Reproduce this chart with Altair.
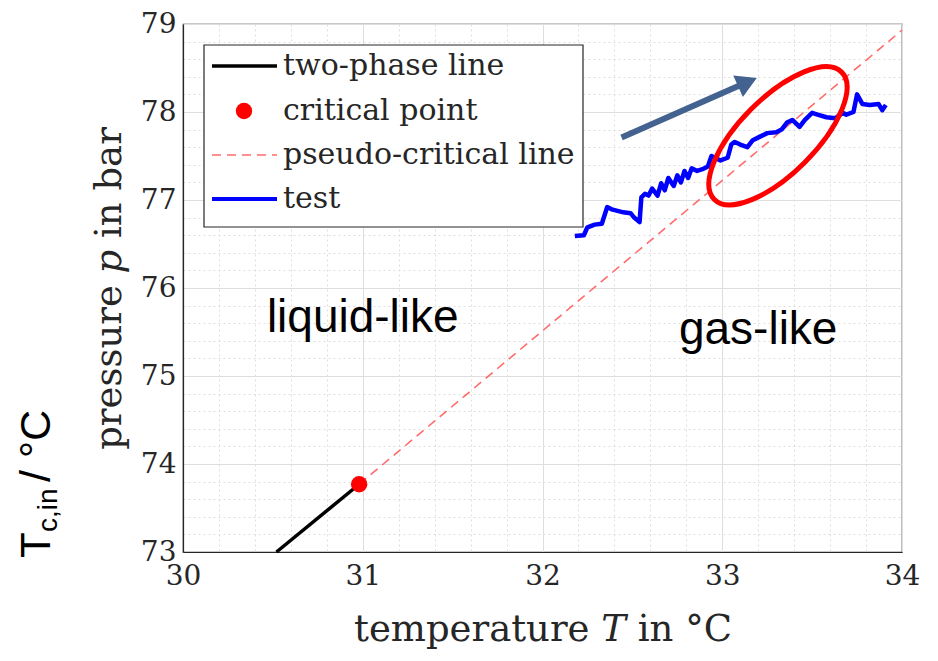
import altair as alt
import pandas as pd

# ---------------- data ----------------
two_phase_T = [30.52, 30.98]
two_phase_p = [73.00, 73.77]
critical_T = [30.98]
critical_p = [73.77]
pseudo_T = [30.98, 34.00]
pseudo_p = [73.77, 78.93]
test_T = [32.18, 32.23, 32.25, 32.29, 32.33, 32.36, 32.39, 32.45, 32.49, 32.51,
          32.54, 32.55, 32.57, 32.59, 32.61, 32.64, 32.66, 32.68, 32.70, 32.73,
          32.75, 32.77, 32.79, 32.81, 32.83, 32.86, 32.89, 32.92, 32.94, 32.96,
          32.99, 33.03, 33.05, 33.07, 33.10, 33.14, 33.17, 33.21, 33.25, 33.30,
          33.33, 33.36, 33.39, 33.42, 33.43, 33.46, 33.50, 33.53, 33.58, 33.63,
          33.67, 33.69, 33.73, 33.75, 33.78, 33.82, 33.87, 33.89, 33.91]
test_p = [76.59, 76.60, 76.69, 76.72, 76.73, 76.92, 76.89, 76.86, 76.85, 76.80,
          76.75, 77.03, 77.07, 77.05, 77.13, 77.05, 77.19, 77.11, 77.25, 77.16,
          77.28, 77.20, 77.33, 77.25, 77.36, 77.33, 77.35, 77.38, 77.50, 77.48,
          77.45, 77.48, 77.63, 77.66, 77.63, 77.60, 77.68, 77.72, 77.76, 77.77,
          77.80, 77.88, 77.91, 77.85, 77.83, 77.91, 77.99, 77.97, 77.94, 77.93,
          77.99, 77.97, 78.00, 78.20, 78.09, 78.08, 78.09, 78.02, 78.08]
legend_labels = ["two-phase line", "critical point", "pseudo-critical line", "test"]
region_labels = ["liquid-like", "gas-like"]
region_T = [31.00, 33.20]
region_p = [75.66, 75.52]
arrow_T = [32.44, 33.14]
arrow_p = [77.71, 78.34]
ellipse_T = [33.31]
ellipse_p = [77.73]
side_label_parts = ["T", "c,in", "/ °C"]
x_title = "temperature 𝑇 in °C"
y_title = "pressure 𝑝 in bar"

x_grid_values = [round(30 + 0.2 * i, 1) for i in range(21)]
y_grid_values = [round(73 + 0.2 * i, 1) for i in range(31)]

# ---------------- styling ----------------
SERIF = "DejaVu Serif"
SANS = "Liberation Sans"
INK = "#262626"
IS_MAJOR = "abs(datum.value - round(datum.value)) < 0.01"

def make_axis(title, values, title_pad, label_pad):
    return alt.Axis(
        values=values,
        title=title,
        grid=True,
        gridColor="#dedede",
        gridWidth=1,
        gridDash=alt.condition(IS_MAJOR, alt.value([]), alt.value([2, 3])),
        labelExpr=f"{IS_MAJOR} ? format(datum.value, 'd') : ''",
        labelOverlap=False,
        labelFlush=False,
        ticks=False,
        domain=True,
        domainColor=INK,
        domainWidth=1.2,
        labelFont=SERIF,
        labelFontSize=28,
        labelColor=INK,
        labelPadding=label_pad,
        titleFont=SERIF,
        titleFontSize=37,
        titleFontWeight="normal",
        titleColor=INK,
        titlePadding=title_pad,
    )

x_axis = make_axis(x_title, x_grid_values, 21, 10)
y_axis = make_axis(y_title, y_grid_values, 12, 7)
x_scale = alt.Scale(domain=[30, 34], nice=False, zero=False)
y_scale = alt.Scale(domain=[73, 79], nice=False, zero=False)

def X(f):
    return alt.X(f"{f}:Q", scale=x_scale, axis=x_axis)

def Y(f):
    return alt.Y(f"{f}:Q", scale=y_scale, axis=y_axis)

# ---------------- layers ----------------
pseudo = alt.Chart(pd.DataFrame({"T": pseudo_T, "p": pseudo_p})).mark_line(
    color="#ff6b6b", strokeWidth=1.6, strokeDash=[9, 6]
).encode(x=X("T"), y=Y("p"))

two_phase = alt.Chart(pd.DataFrame({"T": two_phase_T, "p": two_phase_p})).mark_line(
    color="black", strokeWidth=3.5
).encode(x=X("T"), y=Y("p"))

test = alt.Chart(pd.DataFrame({"T": test_T, "p": test_p})).mark_line(
    color="#0000ff", strokeWidth=4.5, strokeJoin="round"
).encode(x=X("T"), y=Y("p"))

critical = alt.Chart(pd.DataFrame({"T": critical_T, "p": critical_p})).mark_point(
    shape="circle", filled=True, size=270, color="#ff0000", opacity=1
).encode(x=X("T"), y=Y("p"))

regions = alt.Chart(pd.DataFrame({"T": region_T, "p": region_p, "label": region_labels})).mark_text(
    font=SANS, fontSize=46, color="black", align="center", baseline="middle"
).encode(x=X("T"), y=Y("p"), text="label:N")

ELLIPSE_PATH = "M -1 0 A 1 0.42 0 1 1 1 0 A 1 0.42 0 1 1 -1 0 Z"
ellipse = alt.Chart(pd.DataFrame({"T": ellipse_T, "p": ellipse_p})).mark_point(
    shape=ELLIPSE_PATH, filled=False, size=32400, strokeWidth=5,
    color="#ff0000", angle=315, opacity=1
).encode(x=X("T"), y=Y("p"))

arrow_df = pd.DataFrame({"T": arrow_T, "p": arrow_p})
arrow_shaft = alt.Chart(arrow_df).mark_line(
    color="#44628f", strokeWidth=6
).encode(x=X("T"), y=Y("p"))
arrow_head = alt.Chart(arrow_df.tail(1)).mark_point(
    shape="triangle-right", filled=True, size=560, color="#44628f", angle=336, opacity=1
).encode(x=X("T"), y=Y("p"))

# legend (drawn manually)
one = pd.DataFrame({"k": [0]})
legend_box = alt.Chart(one).mark_rect(
    fill="white", stroke=INK, strokeWidth=1.2
).encode(x=alt.value(21), x2=alt.value(400), y=alt.value(21), y2=alt.value(203))

rows_y = [42, 87, 131, 175]
leg_line_black = alt.Chart(one).mark_rule(color="black", strokeWidth=3.5).encode(
    x=alt.value(29), x2=alt.value(94), y=alt.value(rows_y[0]))
leg_point = alt.Chart(one).mark_point(
    shape="circle", filled=True, size=270, color="#ff0000", opacity=1
).encode(x=alt.value(61), y=alt.value(rows_y[1]))
leg_line_red = alt.Chart(one).mark_rule(color="#ff6b6b", strokeWidth=1.6, strokeDash=[9, 6]).encode(
    x=alt.value(29), x2=alt.value(94), y=alt.value(rows_y[2]))
leg_line_blue = alt.Chart(one).mark_rule(color="#0000ff", strokeWidth=4).encode(
    x=alt.value(29), x2=alt.value(94), y=alt.value(rows_y[3]))
leg_texts = [
    alt.Chart(pd.DataFrame({"label": [lab]})).mark_text(
        font=SERIF, fontSize=30, color=INK, align="left", baseline="middle"
    ).encode(x=alt.value(100), y=alt.value(ry), text="label:N")
    for lab, ry in zip(legend_labels, rows_y)
]

# side label "T_c,in / °C"
side_T = alt.Chart(pd.DataFrame({"label": [side_label_parts[0]]})).mark_text(
    font=SANS, fontSize=42, color="black", angle=270, align="left", baseline="alphabetic"
).encode(x=alt.value(-133), y=alt.value(534), text="label:N")
side_sub = alt.Chart(pd.DataFrame({"label": [side_label_parts[1]]})).mark_text(
    font=SANS, fontSize=28, color="black", angle=270, align="left", baseline="alphabetic"
).encode(x=alt.value(-126), y=alt.value(508), text="label:N")
side_unit = alt.Chart(pd.DataFrame({"label": [side_label_parts[2]]})).mark_text(
    font=SANS, fontSize=43, color="black", angle=270, align="left", baseline="alphabetic"
).encode(x=alt.value(-133), y=alt.value(458), text="label:N")

chart = alt.layer(
    pseudo, two_phase, test, critical, regions, ellipse, arrow_shaft, arrow_head,
    legend_box, leg_line_black, leg_point, leg_line_red, leg_line_blue, *leg_texts,
    side_T, side_sub, side_unit,
).properties(
    width=719, height=528,
    padding={"left": 183, "top": 24, "right": 36, "bottom": 109},
    autosize=alt.AutoSizeParams(type="none"),
    background="white",
).configure_view(stroke=INK, strokeWidth=1.2)

chart.save("out.html", embed_options={"renderer": "svg", "actions": False})
